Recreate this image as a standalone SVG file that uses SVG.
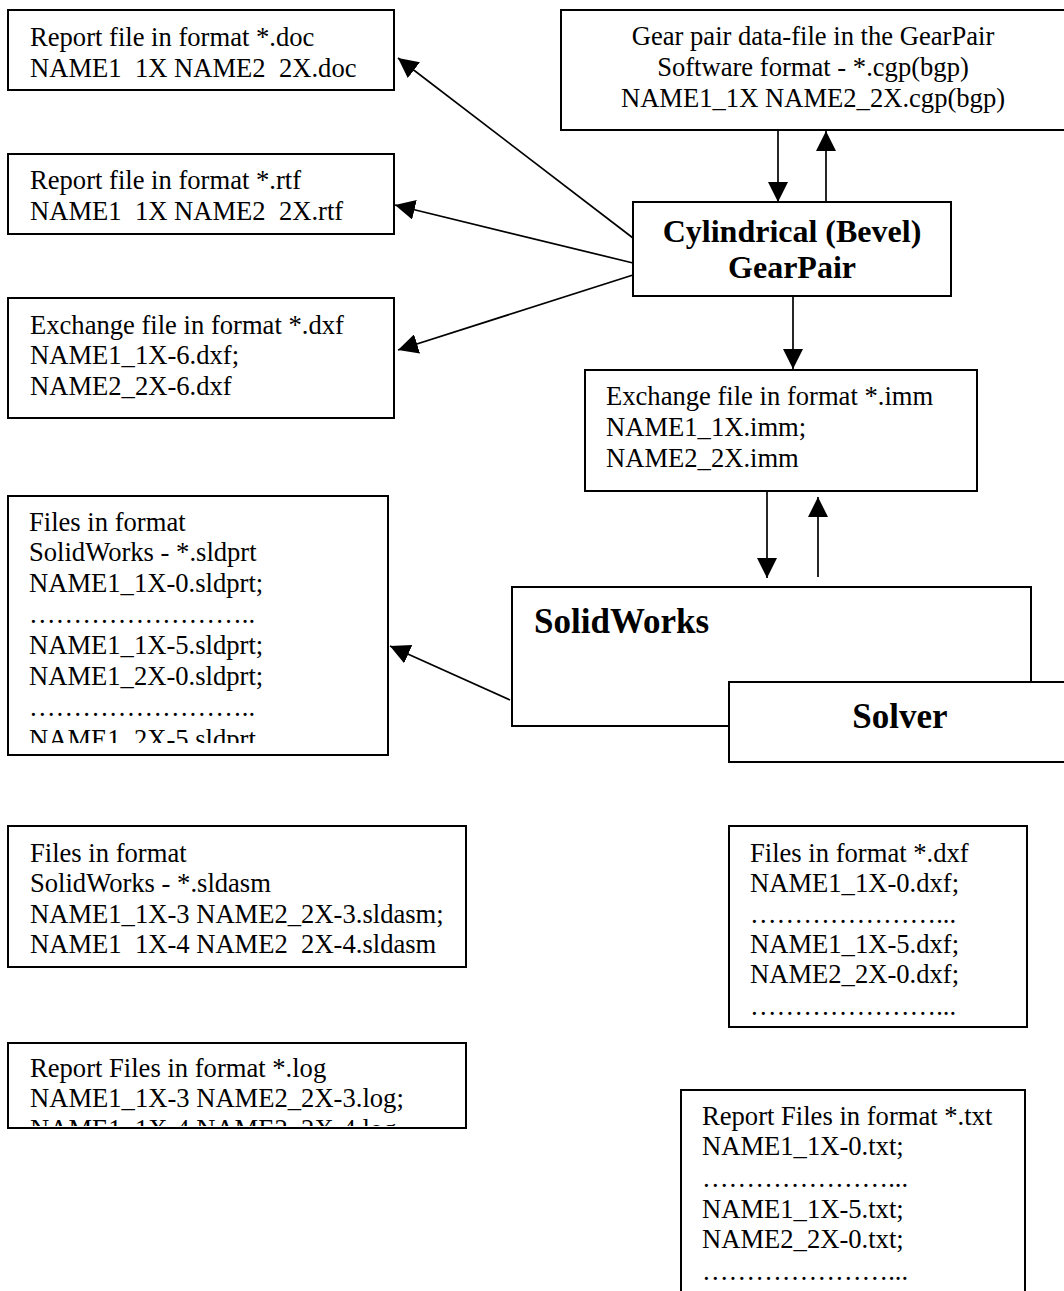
<svg xmlns="http://www.w3.org/2000/svg" width="1064" height="1291" viewBox="0 0 1064 1291">
<style>
.t{font-family:"Liberation Serif","Times New Roman",serif;font-size:26.6px;fill:#000}
.b{font-family:"Liberation Serif","Times New Roman",serif;font-weight:bold;fill:#000}
.box{fill:#fff;stroke:#000;stroke-width:2}
.ln{fill:none;stroke:#000;stroke-width:1.7}
.pre{white-space:pre}
</style>
<defs>
<marker id="ah" markerUnits="userSpaceOnUse" markerWidth="20" markerHeight="20" viewBox="0 0 20 20" refX="20" refY="10" orient="auto">
<path d="M0,0 L20,10 L0,20 Z" fill="#000"/>
</marker>
<clipPath id="clipPrt"><rect x="8" y="496" width="380" height="247"/></clipPath>
<clipPath id="clipLog"><rect x="8" y="1043" width="458" height="83"/></clipPath>
</defs>
<rect width="1064" height="1291" fill="#fff"/>

<g id="doc">
<rect class="box" x="8" y="10" width="386" height="80"/>
<text class="t" x="30" y="46">Report file in format *.doc</text>
<text class="t pre" x="30" y="77" xml:space="preserve">NAME1  1X NAME2  2X.doc</text>
</g>

<g id="rtf">
<rect class="box" x="8" y="154" width="386" height="80"/>
<text class="t" x="30" y="189">Report file in format *.rtf</text>
<text class="t pre" x="30" y="220" xml:space="preserve">NAME1  1X NAME2  2X.rtf</text>
</g>

<g id="dxf6">
<rect class="box" x="8" y="298" width="386" height="120"/>
<text class="t" x="30" y="334">Exchange file in format *.dxf</text>
<text class="t" x="30" y="364">NAME1_1X-6.dxf;</text>
<text class="t" x="30" y="395">NAME2_2X-6.dxf</text>
</g>

<g id="cgp">
<rect class="box" x="561" y="10" width="505" height="120"/>
<text class="t" x="813" y="45" text-anchor="middle">Gear pair data-file in the GearPair</text>
<text class="t" x="813" y="76" text-anchor="middle">Software format - *.cgp(bgp)</text>
<text class="t" x="813" y="107" text-anchor="middle">NAME1_1X NAME2_2X.cgp(bgp)</text>
</g>

<g id="gearpair">
<rect class="box" x="633" y="202" width="318" height="94"/>
<text class="b" x="792" y="242" text-anchor="middle" font-size="32">Cylindrical (Bevel)</text>
<text class="b" x="792" y="278" text-anchor="middle" font-size="32">GearPair</text>
</g>

<g id="imm">
<rect class="box" x="585" y="370" width="392" height="121"/>
<text class="t" x="606" y="405">Exchange file in format *.imm</text>
<text class="t" x="606" y="436">NAME1_1X.imm;</text>
<text class="t" x="606" y="467">NAME2_2X.imm</text>
</g>

<g id="sldprt">
<rect class="box" x="8" y="496" width="380" height="259"/>
<g clip-path="url(#clipPrt)">
<text class="t" x="29" y="531">Files in format</text>
<text class="t" x="29" y="561">SolidWorks - *.sldprt</text>
<text class="t" x="29" y="592">NAME1_1X-0.sldprt;</text>
<text class="t" x="29" y="623">……………………..</text>
<text class="t" x="29" y="654">NAME1_1X-5.sldprt;</text>
<text class="t" x="29" y="685">NAME1_2X-0.sldprt;</text>
<text class="t" x="29" y="716">……………………..</text>
<text class="t" x="29" y="748">NAME1_2X-5.sldprt</text>
</g>
</g>

<g id="solidworks">
<rect class="box" x="512" y="587" width="519" height="139"/>
<text class="b" x="534" y="633" font-size="35">SolidWorks</text>
</g>

<g id="solver">
<rect class="box" x="729" y="682" width="345" height="80"/>
<text class="b" x="900" y="728" text-anchor="middle" font-size="35">Solver</text>
</g>

<g id="sldasm">
<rect class="box" x="8" y="826" width="458" height="141"/>
<text class="t" x="30" y="862">Files in format</text>
<text class="t" x="30" y="892">SolidWorks - *.sldasm</text>
<text class="t" x="30" y="923">NAME1_1X-3 NAME2_2X-3.sldasm;</text>
<text class="t pre" x="30" y="953" xml:space="preserve">NAME1  1X-4 NAME2  2X-4.sldasm</text>
</g>

<g id="log">
<rect class="box" x="8" y="1043" width="458" height="85"/>
<g clip-path="url(#clipLog)">
<text class="t" x="30" y="1077">Report Files in format *.log</text>
<text class="t" x="30" y="1107">NAME1_1X-3 NAME2_2X-3.log;</text>
<text class="t" x="30" y="1138">NAME1_1X-4 NAME2_2X-4.log</text>
</g>
</g>

<g id="dxffiles">
<rect class="box" x="729" y="826" width="298" height="201"/>
<text class="t" x="750" y="862">Files in format *.dxf</text>
<text class="t" x="750" y="892">NAME1_1X-0.dxf;</text>
<text class="t" x="750" y="923">…………………...</text>
<text class="t" x="750" y="953">NAME1_1X-5.dxf;</text>
<text class="t" x="750" y="983">NAME2_2X-0.dxf;</text>
<text class="t" x="750" y="1015">…………………...</text>
</g>

<g id="txt">
<rect class="box" x="681" y="1090" width="344" height="220"/>
<text class="t" x="702" y="1125">Report Files in format *.txt</text>
<text class="t" x="702" y="1155">NAME1_1X-0.txt;</text>
<text class="t" x="702" y="1187">…………………...</text>
<text class="t" x="702" y="1218">NAME1_1X-5.txt;</text>
<text class="t" x="702" y="1248">NAME2_2X-0.txt;</text>
<text class="t" x="702" y="1280">…………………...</text>
</g>

<g id="connectors">
<line class="ln" x1="778" y1="131" x2="778" y2="202" marker-end="url(#ah)"/>
<line class="ln" x1="826" y1="202" x2="826" y2="131" marker-end="url(#ah)"/>
<line class="ln" x1="793" y1="297" x2="793" y2="369" marker-end="url(#ah)"/>
<line class="ln" x1="767" y1="492" x2="767" y2="578" marker-end="url(#ah)"/>
<line class="ln" x1="818" y1="577" x2="818" y2="497" marker-end="url(#ah)"/>
<line class="ln" x1="633" y1="238" x2="398" y2="58" marker-end="url(#ah)"/>
<line class="ln" x1="633" y1="263" x2="395" y2="205" marker-end="url(#ah)"/>
<line class="ln" x1="633" y1="275" x2="398" y2="350" marker-end="url(#ah)"/>
<line class="ln" x1="510" y1="700" x2="390" y2="646" marker-end="url(#ah)"/>
</g>
</svg>
